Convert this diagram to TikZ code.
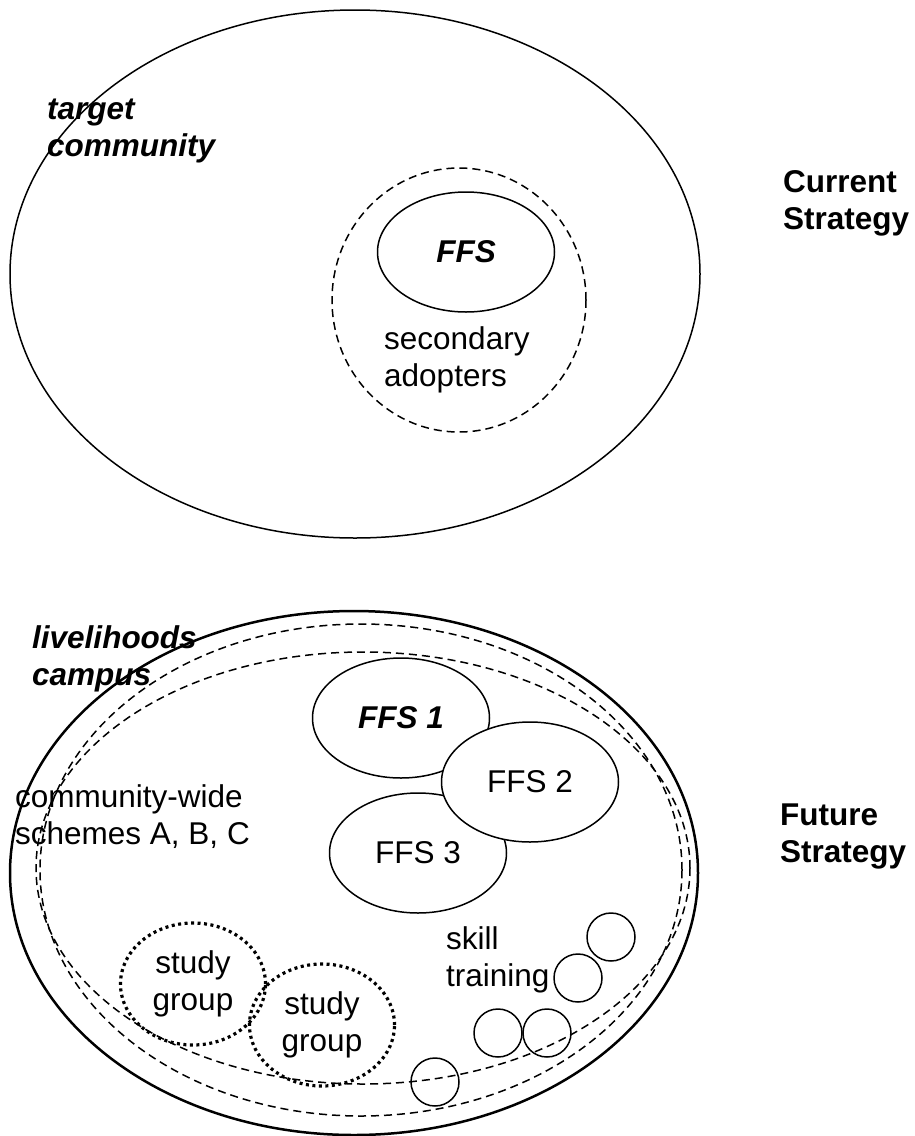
\documentclass[tikz,border=0pt]{standalone}
\usepackage{fontspec}
\setmainfont{Liberation Sans}
\usepackage{tikz}
\usetikzlibrary{shapes.geometric}
\tikzset{
  oval/.style  = {draw, ellipse, inner sep=0pt, line width=1.5pt},
  ffs/.style   = {oval, fill=white, minimum width=177pt, minimum height=120pt},
  ring/.style  = {oval, dash pattern=on 8pt off 5pt},
  spot/.style  = {draw, circle, inner sep=0pt, minimum size=48pt, line width=1.5pt},
  study/.style = {draw, ellipse, inner sep=0pt, line width=3.2pt,
                  dash pattern=on 3pt off 3.5pt, minimum width=145pt,
                  minimum height=122pt, align=center},
  lbl/.style   = {align=left, anchor=west, inner sep=0pt},
  emph/.style  = {font=\fontsize{31.5}{37}\selectfont\bfseries\itshape},
  heading/.style = {font=\fontsize{31.5}{37}\selectfont\bfseries}
}
\begin{document}
\begin{tikzpicture}[x=1pt, y=-1pt, font=\fontsize{31.5}{37}\selectfont]
    \useasboundingbox (0,0) rectangle (914,1136);
    % current strategy
    \node[oval, minimum width=690pt, minimum height=528pt] (T) at (355,274) {};
    \node[ring, minimum width=254pt, minimum height=264pt] (S) at (459,300) {};
    \node[oval, minimum width=177pt, minimum height=120pt, emph] (F) at (466,252) {FFS};
    \node[lbl, emph] (tc) at (47,131) {target\\community};
    \node[lbl] (sa) at (384,360) {secondary\\adopters};
    \node[lbl, heading] (cs) at (783,203) {Current\\Strategy};
    % future strategy
    \node[oval, line width=2.5pt, minimum width=688pt, minimum height=524pt] (L) at (354,873) {};
    \node[ring, minimum width=642pt, minimum height=492pt] (D1) at (361,870) {};
    \node[ring, minimum width=654pt, minimum height=432pt] (D2) at (363,868) {};
    \node[ffs, emph] (F1) at (401,718) {FFS 1};
    \node[ffs] (F3) at (418,853) {FFS 3};
    \node[ffs] (F2) at (530,782) {FFS 2};
    \node[study] (G1) at (193,984) {study\\group};
    \node[study] (G2) at (322,1025) {study\\group};
    \foreach \x/\y [count=\i] in {611/937, 578/978, 498/1033, 547/1033, 435/1082}
      \node[spot] (K\i) at (\x,\y) {};
    \node[lbl, emph] (lc) at (32,659) {livelihoods\\campus};
    \node[lbl] (cw) at (15,817) {community-wide\\schemes A, B, C};
    \node[lbl] (st) at (446,960) {skill\\training};
    \node[lbl, heading] (fs) at (780,836) {Future\\Strategy};
\end{tikzpicture}
\end{document}
